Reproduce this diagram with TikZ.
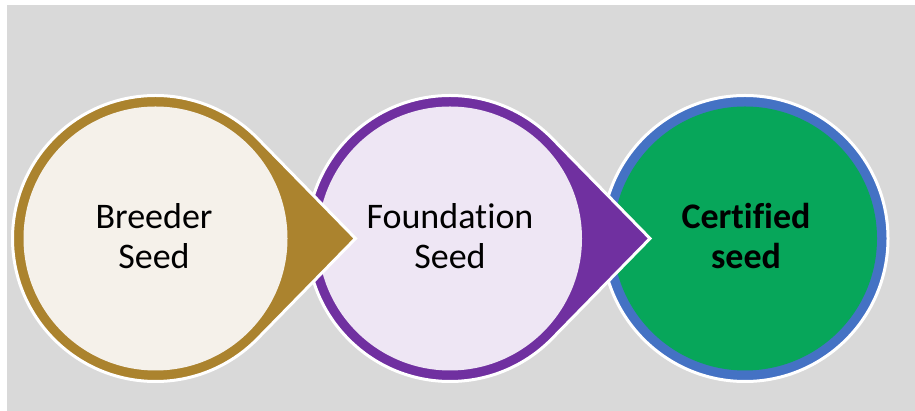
\documentclass[tikz,border=0pt]{standalone}
\usepackage{fontspec}
\setmainfont[Ligatures=NoCommon]{Carlito}
\usetikzlibrary{calc}
\definecolor{bggray}{HTML}{D9D9D9}
\definecolor{gold}{HTML}{AB832E}
\definecolor{cream}{HTML}{F5F1EA}
\definecolor{purp}{HTML}{7030A0}
\definecolor{lilac}{HTML}{EEE6F4}
\definecolor{grn}{HTML}{07A65A}
\definecolor{blu}{HTML}{4472C4}
\tikzset{
  outline/.style={draw=white, line width=3pt, line join=miter},
  lbl/.style={align=center, font=\fontsize{36}{39.5}\selectfont, text=black, inner sep=0pt}
}
\newcommand{\teardrop}[3]{%
  % #1 center, #2 outer colour, #3 inner colour
  \path[outline, fill=#2] ($(#1)+(200,0)$) -- ($(#1)+(45:143)$)
     arc[start angle=45, end angle=315, radius=143] -- cycle;
  \fill[#3] (#1) circle[radius=132];
}
\begin{document}
\begin{tikzpicture}[x=1pt,y=1pt]
\useasboundingbox (0,0) rectangle (915,411);
\fill[bggray] (7,0) rectangle (915,406);
\coordinate (c1) at (155.5,172.5);
\coordinate (c2) at (450,172.5);
\coordinate (c3) at (745,172.5);
% third circle
\path[outline, fill=blu] (c3) circle[radius=143];
\fill[grn] (c3) circle[radius=132];
% second teardrop
\teardrop{c2}{purp}{lilac}
% first teardrop
\teardrop{c1}{gold}{cream}
\node[lbl] (t1) at (154,175) {Breeder\\Seed};
\node[lbl] (t2) at (450,175) {Foundation\\Seed};
\node[lbl, font=\fontsize{36}{39.5}\selectfont\bfseries] (t3) at (746,175) {Certified\\seed};
\end{tikzpicture}
\end{document}
